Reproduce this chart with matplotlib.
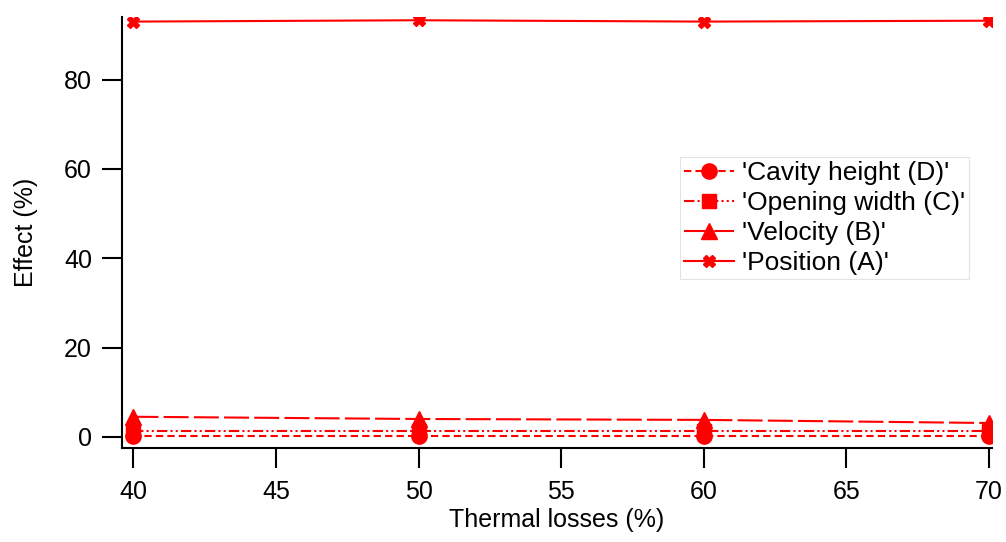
import matplotlib.pyplot as plt

losses = [40, 50, 60, 70]
position_a = [93.0, 93.3, 93.0, 93.2]
velocity_b = [4.5, 4.0, 3.8, 3.1]
opening_c = [1.2, 1.2, 1.2, 1.2]
cavity_d = [0.1, 0.1, 0.1, 0.1]

plt.rcParams['font.family'] = ['Liberation Sans', 'DejaVu Sans']

fig = plt.figure(figsize=(10.06, 5.42), dpi=100)
ax = fig.add_axes([0.1213, 0.1734, 0.8647, 0.795])

red = '#ff0000'
ax.plot(losses, cavity_d, color=red, lw=1.5, ls=(0, (3.5, 2)),
        marker='o', ms=11, label="'Cavity height (D)'", zorder=3)
ax.plot(losses, opening_c, color=red, lw=1.5, ls=(0, (5, 1.5, 1, 1.5, 1, 1.5)),
        marker='s', ms=10.5, label="'Opening width (C)'", zorder=3)
ax.plot(losses, velocity_b, color=red, lw=1.5, ls=(0, (12, 2.5)),
        marker='^', ms=12, label="'Velocity (B)'", zorder=3)
ax.plot(losses, position_a, color=red, lw=1.5, ls='-',
        marker='X', ms=9, label="'Position (A)'", zorder=3)

ax.set_xlim(39.6, 70.1)
ax.set_ylim(-2.5, 94)
ax.set_xticks([40, 45, 50, 55, 60, 65, 70])
ax.set_yticks([0, 20, 40, 60, 80])
ax.tick_params(direction='out', length=14.4, width=1.5, labelsize=18)
ax.tick_params(axis='x', pad=8.6)
ax.tick_params(axis='y', pad=7.2)
for side in ('top', 'right'):
    ax.spines[side].set_visible(False)
for side in ('left', 'bottom'):
    ax.spines[side].set_linewidth(1.5)

ax.set_xlabel('Thermal losses (%)', fontsize=18, labelpad=3)
ax.set_ylabel('Effect (%)', fontsize=18, labelpad=19)

leg = ax.legend(loc='upper left', bbox_to_anchor=(0.641, 0.675), fontsize=19,
                frameon=True, fancybox=False, handlelength=1.9,
                borderpad=0.15, labelspacing=0.23, handletextpad=0.3,
                borderaxespad=0)
leg.get_frame().set_edgecolor('#dddddd')
leg.get_frame().set_linewidth(0.8)

fig.savefig('out.png', dpi=100)
